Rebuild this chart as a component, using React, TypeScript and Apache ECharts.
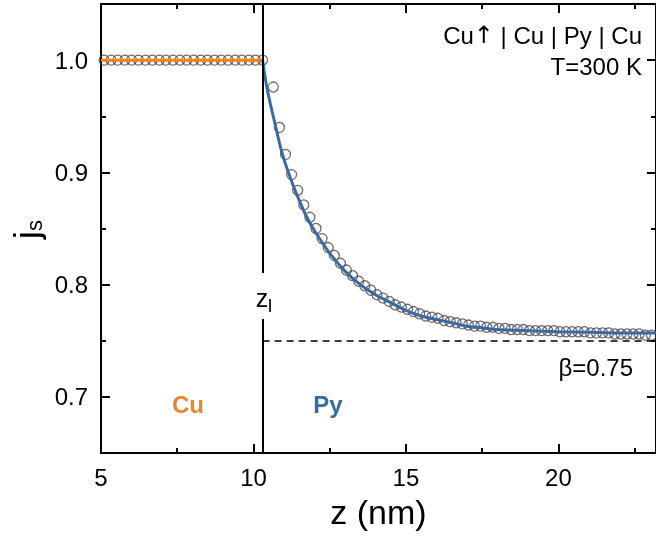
import React, { useEffect, useRef } from "react";
import * as echarts from "echarts";

// Interface position and asymptotic spin-current ratio in Py
const Z_INTERFACE = 10.3;
const BETA = 0.75;

const X_MIN = 5;
const X_MAX = 23.2;
const Y_MIN = 0.65;
const Y_MAX = 1.05;

// Simulated j_s in the Cu layer
const cuZ = [5.1, 5.33, 5.55, 5.78, 6.0, 6.23, 6.46, 6.68, 6.91, 7.13, 7.36, 7.59, 7.81, 8.04, 8.27, 8.49, 8.72, 8.94, 9.17, 9.4, 9.62, 9.85, 10.07, 10.3];
const cuJs = [1.0, 1.0, 1.0, 1.0, 1.0, 1.0, 1.0, 1.0, 1.0, 1.0, 1.0, 1.0, 1.0, 1.0, 1.0, 1.0, 1.0, 1.0, 1.0, 1.0, 1.0, 1.0, 1.0, 1.0];

// Simulated j_s in the Py layer
const pyZ = [
  10.65, 10.85, 11.05, 11.25, 11.45, 11.65, 11.85, 12.05, 12.25, 12.45,
  12.65, 12.85, 13.05, 13.25, 13.45, 13.65, 13.85, 14.05, 14.25, 14.45,
  14.65, 14.85, 15.05, 15.25, 15.45, 15.65, 15.85, 16.05, 16.25, 16.45,
  16.65, 16.85, 17.05, 17.25, 17.45, 17.65, 17.85, 18.05, 18.25, 18.45,
  18.65, 18.85, 19.05, 19.25, 19.45, 19.65, 19.85, 20.05, 20.25, 20.45,
  20.65, 20.85, 21.05, 21.25, 21.45, 21.65, 21.85, 22.05, 22.25, 22.45,
  22.65, 22.85, 23.05,
];
const pyJs = [
  0.976, 0.94, 0.916, 0.898, 0.884, 0.871, 0.86, 0.85, 0.841, 0.833,
  0.826, 0.819, 0.813, 0.808, 0.803, 0.799, 0.795, 0.791, 0.788, 0.785,
  0.782, 0.78, 0.778, 0.776, 0.774, 0.772, 0.771, 0.77, 0.768, 0.767,
  0.766, 0.765, 0.764, 0.763, 0.763, 0.762, 0.762, 0.761, 0.761, 0.76,
  0.76, 0.76, 0.759, 0.759, 0.759, 0.759, 0.759, 0.758, 0.758, 0.758,
  0.758, 0.758, 0.757, 0.757, 0.757, 0.757, 0.756, 0.756, 0.756, 0.756,
  0.756, 0.755, 0.755,
];

// Fitted decay curve in Py
const fitZ = [10.3, 10.45, 10.7, 10.95, 11.25, 11.5, 11.75, 12.0, 12.5, 13.0, 13.5, 14.0, 14.5, 15.0, 15.5, 16.0, 16.5, 17.0, 17.5, 18.0, 19.0, 20.0, 21.0, 22.0, 23.2];
const fitJs = [1.0, 0.974, 0.944, 0.916, 0.892, 0.875, 0.86, 0.848, 0.828, 0.812, 0.8, 0.791, 0.784, 0.777, 0.772, 0.769, 0.766, 0.763, 0.7615, 0.76, 0.759, 0.758, 0.7575, 0.757, 0.757];

// Constant j_s in Cu
const cuLineZ = [5, 10.3];
const cuLineJs = [1.0, 1.0];

const FONT = "'Liberation Sans', Arial, sans-serif";
const ORANGE_LINE = "#ff7f0e";
const ORANGE_TEXT = "#f0842a";
const BLUE = "#3a6aa3";
const CIRCLE = "#4a4a4a";

const zip = (xs: number[], ys: number[]) => xs.map((x, i) => [x, ys[i]]);

const axisLine = () => ({ show: true, lineStyle: { color: "#000", width: 2 } });
const axisTick = () => ({ show: true, inside: true, length: 9, lineStyle: { color: "#000", width: 2 } });
const minorTick = () => ({ show: true, splitNumber: 2, length: 5, lineStyle: { color: "#000", width: 2 } });

export default function App() {
  const ref = useRef<HTMLDivElement>(null);

  useEffect(() => {
    if (!ref.current) return;
    const chart = echarts.init(ref.current, undefined, { renderer: "svg" });

    const scatterStyle = {
      type: "scatter",
      symbol: "circle",
      symbolSize: 10,
      itemStyle: { color: "rgba(0,0,0,0)", borderColor: CIRCLE, borderWidth: 1.3 },
      z: 2,
      silent: true,
    };

    const txt = (x: number, y: number, text: string, size: number, extra: any = {}) => ({
      type: "text",
      z: 101,
      x,
      y,
      style: { text, fontSize: size, fontFamily: FONT, fill: "#000", align: "right", verticalAlign: "middle", ...extra },
    });

    chart.setOption({
      animation: false,
      grid: { left: 101, top: 4, right: 0, bottom: 87 },
      xAxis: [
        {
          type: "value",
          position: "bottom",
          min: X_MIN,
          max: X_MAX,
          interval: 5,
          axisLine: axisLine(),
          axisTick: axisTick(),
          minorTick: minorTick(),
          splitLine: { show: false },
          axisLabel: { fontSize: 24, color: "#000", margin: 12, fontFamily: FONT, showMaxLabel: false },
          name: "z (nm)",
          nameLocation: "middle",
          nameGap: 42,
          nameTextStyle: { fontSize: 34, color: "#000", fontFamily: FONT },
        },
        {
          type: "value",
          position: "top",
          min: X_MIN,
          max: X_MAX,
          interval: 5,
          axisLine: axisLine(),
          axisTick: axisTick(),
          minorTick: minorTick(),
          splitLine: { show: false },
          axisLabel: { show: false },
        },
      ],
      yAxis: [
        {
          type: "value",
          position: "left",
          min: Y_MIN,
          max: Y_MAX,
          splitNumber: 4,
          axisLine: axisLine(),
          axisTick: axisTick(),
          minorTick: minorTick(),
          splitLine: { show: false },
          axisLabel: {
            fontSize: 24,
            color: "#000",
            margin: 13,
            fontFamily: FONT,
            showMinLabel: false,
            showMaxLabel: false,
            formatter: (v: number) => v.toFixed(1),
          },
        },
        {
          type: "value",
          position: "right",
          min: Y_MIN,
          max: Y_MAX,
          splitNumber: 4,
          axisLine: axisLine(),
          axisTick: axisTick(),
          minorTick: minorTick(),
          splitLine: { show: false },
          axisLabel: { show: false },
        },
      ],
      series: [
        { ...scatterStyle, name: "Cu", data: zip(cuZ, cuJs) },
        { ...scatterStyle, name: "Py", data: zip(pyZ, pyJs) },
        {
          type: "line",
          name: "Cu level",
          data: zip(cuLineZ, cuLineJs),
          showSymbol: false,
          lineStyle: { color: ORANGE_LINE, width: 3 },
          z: 3,
          silent: true,
        },
        {
          type: "line",
          name: "fit",
          data: zip(fitZ, fitJs),
          smooth: 0.3,
          showSymbol: false,
          lineStyle: { color: BLUE, width: 3 },
          z: 4,
          silent: true,
          markLine: {
            silent: true,
            symbol: ["none", "none"],
            label: { show: false },
            data: [
              [
                { coord: [Z_INTERFACE, Y_MIN], lineStyle: { color: "#000", width: 2, type: "solid" } },
                { coord: [Z_INTERFACE, Y_MAX] },
              ],
              [
                { coord: [Z_INTERFACE, BETA], lineStyle: { color: "#000", width: 1.6, type: [7, 5] } },
                { coord: [X_MAX, BETA] },
              ],
            ],
          },
        },
      ],
      graphic: [
        // gap in the interface line for its label
        { type: "rect", z: 100, shape: { x: 254, y: 273, width: 18, height: 46 }, style: { fill: "#fff" } },
        txt(262, 298, "z", 25, { align: "center" }),
        txt(270, 306, "I", 18, { align: "center" }),
        // y-axis title j_s
        {
          type: "group",
          z: 101,
          x: 26,
          y: 239,
          rotation: Math.PI / 2,
          children: [
            { type: "text", x: 0, y: 0, style: { text: "j", fontSize: 35, fontFamily: FONT, fill: "#000", align: "left", verticalAlign: "middle" } },
            { type: "text", x: 8, y: 8, style: { text: "s", fontSize: 22, fontFamily: FONT, fill: "#000", align: "left", verticalAlign: "middle" } },
          ],
        },
        {
          type: "text",
          z: 101,
          x: 642,
          y: 35,
          style: {
            text: "{n|Cu}{a|\u2191}{n| | Cu | Py | Cu}",
            align: "right",
            verticalAlign: "middle",
            rich: {
              n: { fontSize: 24, fontFamily: FONT, fill: "#000" },
              a: { fontSize: 24, fontFamily: "'DejaVu Sans', sans-serif", fill: "#000" },
            },
          },
        },
        txt(642, 66, "T=300 K", 24),
        txt(633, 367, "\u03b2=" + BETA.toFixed(2), 24),
        txt(188, 404, "Cu", 24, { fontWeight: "bold", fill: ORANGE_TEXT, align: "center" }),
        txt(328, 404, "Py", 24, { fontWeight: "bold", fill: BLUE, align: "center" }),
      ],
    });

    return () => chart.dispose();
  }, []);

  return <div ref={ref} style={{ position: "fixed", left: 0, top: 0, width: 656, height: 540 }} />;
}
